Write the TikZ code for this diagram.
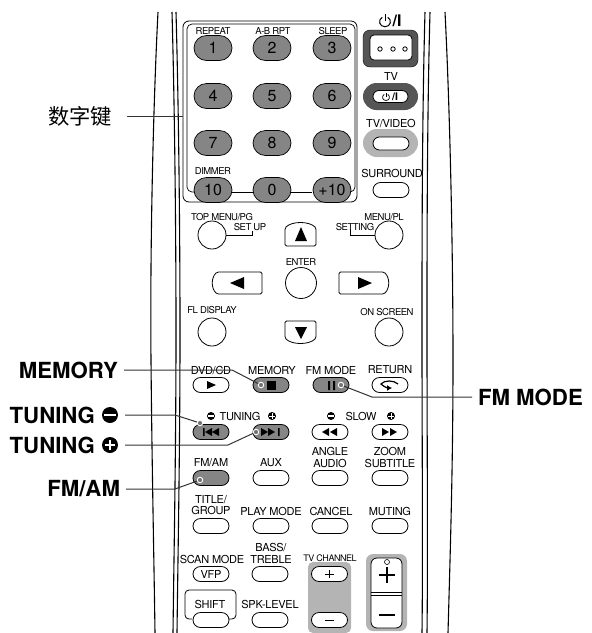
\documentclass[tikz,border=0pt]{standalone}
\usepackage{fontspec}
\setmainfont{TeX Gyre Heros}
\newfontfamily\cjk{Noto Sans CJK SC}
\newfontfamily\tightfont[LetterSpace=-5,BoldFont={TeX Gyre Heros Bold}]{TeX Gyre Heros}
\newfontfamily\lblfont[LetterSpace=-2.5]{TeX Gyre Heros}
\usetikzlibrary{arrows.meta,shapes.misc}
\definecolor{keygray}{HTML}{858585}
\definecolor{ringdark}{HTML}{555555}
\definecolor{ringlight}{HTML}{B4B4B4}
\tikzset{
  lbl/.style={font=\lblfont\fontsize{11}{11.8}\selectfont, align=center, inner sep=0pt},
  smalllbl/.style={font=\tightfont\fontsize{9.5}{10}\selectfont, align=center, inner sep=0pt},
  keylbl/.style={font=\bfseries\fontsize{22.2}{22}\selectfont, inner sep=0pt, outer xsep=6pt},
  btn/.style={draw=black, fill=white, rounded rectangle, line width=0.8pt, minimum width=36pt, minimum height=15pt, inner sep=0pt, font=\lblfont\fontsize{11}{11}\selectfont},
  darkbtn/.style={btn, fill=keygray},
  numkey/.style={draw=black, fill=keygray, rounded rectangle, line width=0.7pt, minimum width=38pt, minimum height=25pt, inner sep=0pt, font=\fontsize{16}{16}\selectfont},
  roundbtn/.style={draw=black, fill=white, circle, line width=0.8pt, minimum size=28pt, inner sep=0pt},
  leader/.style={line width=1pt, draw=black!80},
  body/.style={line width=1.1pt},
  ring/.style={circle, draw=white, fill=black!55, line width=0.9pt, minimum size=5.5pt, inner sep=0pt},
  minusicon/.style={circle, fill=black, inner sep=0pt, minimum size=#1, path picture={
    \fill[white] ([xshift=-0.36*#1, yshift=-0.08*#1]path picture bounding box.center) rectangle ([xshift=0.36*#1, yshift=0.08*#1]path picture bounding box.center);}},
  plusicon/.style={circle, fill=black, inner sep=0pt, minimum size=#1, path picture={
    \fill[white] ([xshift=-0.34*#1, yshift=-0.06*#1]path picture bounding box.center) rectangle ([xshift=0.34*#1, yshift=0.06*#1]path picture bounding box.center);
    \fill[white] ([xshift=-0.06*#1, yshift=-0.34*#1]path picture bounding box.center) rectangle ([xshift=0.06*#1, yshift=0.34*#1]path picture bounding box.center);}},
  powersign/.pic={
    \draw[line width=#1] (-2.2,-2.6) .. controls (-6,-0.5) and (-4.5,5) .. (0,5) .. controls (4.5,5) and (6,-0.5) .. (2.2,-2.6);
    \draw[line width=#1] (0,-5) -- (0,0.5);
  }
}
\begin{document}
\begin{tikzpicture}[x=1pt, y=-1pt]
\useasboundingbox (0,0) rectangle (592,633);
% remote outline
\draw[body] (158,12) .. controls (153,110) and (150,250) .. (151,360) .. controls (152,470) and (154,560) .. (155,633);
\draw[body] (172,12) .. controls (175,120) and (176,250) .. (176,330) .. controls (176,450) and (174,550) .. (173,633);
\draw[body] (176,12) .. controls (179,120) and (180,250) .. (180,330) .. controls (180,450) and (178,550) .. (177,633);
\draw[body] (430,12) .. controls (427,120) and (427,250) .. (427,330) .. controls (427,450) and (428,550) .. (427,633);
\draw[body] (425,12) .. controls (422,120) and (422,250) .. (422,330) .. controls (422,450) and (423,550) .. (422,633);
\draw[body] (445,12) .. controls (450,110) and (453,250) .. (453,360) .. controls (453,470) and (450,560) .. (448,633);
% number keys
\draw[line width=0.8pt, rounded corners=6pt] (183,21) rectangle (357,202);
\draw[line width=0.7pt, rounded corners=5pt] (197,192) -- (187,192) -- (187,24) -- (355,24) -- (355,192) -- (345,192);
\draw[line width=0.7pt] (232,192) -- (312,192);
\node[smalllbl] (repeatlbl) at (213,31) {REPEAT};
\node[smalllbl] (ablbl) at (273,31) {A-B RPT};
\node[smalllbl] (sleeplbl) at (333,31) {SLEEP};
\node[smalllbl] (dimmerlbl) at (213,171) {DIMMER};
\node[numkey] (key1) at (213,48) {1};
\node[numkey] (key2) at (272,48) {2};
\node[numkey] (key3) at (332,48) {3};
\node[numkey] (key4) at (213,96) {4};
\node[numkey] (key5) at (272,96) {5};
\node[numkey] (key6) at (332,96) {6};
\node[numkey] (key7) at (213,143) {7};
\node[numkey] (key8) at (272,143) {8};
\node[numkey] (key9) at (332,143) {9};
\node[numkey] (key10) at (213,190) {10};
\node[numkey] (key0) at (272,190) {0};
\node[numkey] (keyplus) at (332,190) {+10};
% power column
\pic[scale=1.25] at (385,20.5) {powersign=1pt};
\node[font=\bfseries\fontsize{16}{16}\selectfont, inner sep=0pt] (powerlbl) at (397,20.5) {/I};
\draw[fill=ringdark, rounded corners=7pt] (363,30) rectangle (418,67);
\draw[fill=white, rounded corners=4pt, line width=0.8pt] (370,35) rectangle (412,60);
\draw[line width=0.8pt] (380,49) circle (2.2) (393,49) circle (2.2) (405,49) circle (2.2);
\node[lbl] (tvlbl) at (391,76) {TV};
\node[rounded rectangle, fill=ringdark, minimum width=55pt, minimum height=27pt, inner sep=0pt] (tvring) at (390.5,96.5) {};
\node[btn, minimum width=35pt, minimum height=12pt] (tvbtn) at (390.5,96.5) {};
\pic[scale=0.8] at (386,96.5) {powersign=0.7pt};
\node[font=\bfseries\fontsize{10.5}{10.5}\selectfont, inner sep=0pt] (tvpowerlbl) at (395,96.5) {/I};
\node[lbl] (tvvideolbl) at (391,123) {TV/VIDEO};
\node[rounded rectangle, fill=ringlight, minimum width=55pt, minimum height=28pt, inner sep=0pt] (videoring) at (390.5,143) {};
\node[btn, minimum width=36pt, minimum height=13pt] (videobtn) at (391,143.5) {};
\node[lbl] (surroundlbl) at (392,173) {SURROUND};
\node[btn] (surroundbtn) at (391,190) {};
% menu section
\node[smalllbl] (topmenulbl) at (222,217) {TOP MENU/PG};
\node[smalllbl] (setuplbl) at (250,227) {SET UP};
\node[smalllbl] (menulbl) at (384,217) {MENU/PL};
\node[smalllbl] (settinglbl) at (355,227) {SETTING};
\node[roundbtn] (topmenubtn) at (212,235) {};
\node[roundbtn] (menubtn) at (389,235) {};
\draw[line width=0.7pt] (topmenubtn.east) -- (252,235) -- (252,231);
\draw[line width=0.7pt] (menubtn.west) -- (350,235) -- (350,229);
\draw[line width=0.8pt, rounded corners=1.5pt] (285,246) -- (285,228) .. controls (292,221) and (309,221) .. (316,228) -- (316,246) -- cycle;
\fill (301,227) -- (307,241) -- (295,241) -- cycle;
\node[smalllbl] (enterlbl) at (301,262) {ENTER};
\node[roundbtn, minimum size=31pt] (enterbtn) at (301,283) {};
\draw[line width=0.8pt, rounded corners=1.5pt] (262,272) -- (217,272) .. controls (211,278) and (211,288) .. (217,294) -- (262,294) -- cycle;
\fill (230,283) -- (244,277) -- (244,289) -- cycle;
\draw[line width=0.8pt, rounded corners=1.5pt] (339,272) -- (384,272) .. controls (390,278) and (390,288) .. (384,294) -- (339,294) -- cycle;
\fill (372,283) -- (358,277) -- (358,289) -- cycle;
\node[smalllbl] (fllbl) at (212,310) {FL DISPLAY};
\node[smalllbl] (onscreenlbl) at (387,312) {ON SCREEN};
\node[roundbtn] (flbtn) at (212,332) {};
\node[roundbtn] (onscreenbtn) at (389,332) {};
\draw[line width=0.8pt, rounded corners=1.5pt] (285,321) -- (316,321) -- (316,338) .. controls (309,345) and (292,345) .. (285,338) -- cycle;
\fill (301,339) -- (307,327) -- (295,327) -- cycle;
% transport rows
\node[lbl] (dvdlbl) at (211,370) {DVD/CD};
\node[lbl] (memorylbl) at (272,370) {MEMORY};
\node[lbl] (fmmodelbl) at (331,370) {FM MODE};
\node[lbl] (returnlbl) at (390,370) {RETURN};
\node[btn] (dvdbtn) at (211,385) {};
\node[darkbtn] (memorybtn) at (271,385) {};
\node[darkbtn] (fmmodebtn) at (331,385) {};
\node[btn] (returnbtn) at (390,385) {};
\fill (207,381) -- (216,385) -- (207,389) -- cycle;
\fill (267,381) rectangle (276,390);
\fill (328,381) rectangle (330,390) (333,381) rectangle (335,390);
\draw[line width=1.2pt, -{Latex[length=5pt,width=6pt]}] (398,384) .. controls (394,380) and (384,380) .. (381,384) .. controls (384,387) and (388,388) .. (392,388);
\node[lbl] (tuninglbl) at (240,416) {TUNING};
\node[lbl] (slowlbl) at (361,416) {SLOW};
\node[minusicon=8pt] (tuningminussign) at (211,416) {};
\node[plusicon=8pt] (tuningplussign) at (272,416) {};
\node[minusicon=8pt] (slowminussign) at (331,416) {};
\node[plusicon=8pt] (slowplussign) at (391,416) {};
\node[darkbtn] (prevbtn) at (211,432) {};
\node[darkbtn] (nextbtn) at (271,432) {};
\node[btn] (rewbtn) at (330,432) {};
\node[btn] (ffbtn) at (390,432) {};
\fill (203,428) rectangle (204.5,436) (205,432) -- (212,428) -- (212,436) -- cycle (212,432) -- (219,428) -- (219,436) -- cycle;
\fill (261,428) -- (268,432) -- (261,436) -- cycle (268,428) -- (275,432) -- (268,436) -- cycle (278,428) rectangle (279.5,436);
\fill (322,432) -- (329,428) -- (329,436) -- cycle (330,432) -- (337,428) -- (337,436) -- cycle;
\fill (382,428) -- (389,432) -- (382,436) -- cycle (390,428) -- (397,432) -- (390,436) -- cycle;
% lower keys
\node[lbl] (fmamlbl) at (211,463) {FM/AM};
\node[lbl] (auxlbl) at (271,463) {AUX};
\node[lbl] (anglelbl) at (330,457.5) {ANGLE\\AUDIO};
\node[lbl] (zoomlbl) at (390,457.5) {ZOOM\\SUBTITLE};
\node[darkbtn] (fmambtn) at (211,478) {};
\node[btn] (auxbtn) at (271,478) {};
\node[btn] (anglebtn) at (330,478) {};
\node[btn] (zoombtn) at (390,478) {};
\node[lbl] (titlelbl) at (211,505) {TITLE/\\GROUP};
\node[lbl] (playlbl) at (271,511) {PLAY MODE};
\node[lbl] (cancellbl) at (331,511) {CANCEL};
\node[lbl] (mutinglbl) at (390,511) {MUTING};
\node[btn] (titlebtn) at (211,526) {};
\node[btn] (playbtn) at (271,526) {};
\node[btn] (cancelbtn) at (330,526) {};
\node[btn] (mutingbtn) at (390,526) {};
\node[lbl] (scanlbl) at (212,559) {SCAN MODE};
\node[lbl] (basslbl) at (271,553) {BASS/\\TREBLE};
\node[smalllbl, font=\tightfont\fontsize{9}{10}\selectfont] (tvchlbl) at (330,558) {TV CHANNEL};
\node[btn] (vfpbtn) at (211,574) {VFP};
\node[btn] (bassbtn) at (270,574) {};
\fill[ringlight, rounded corners=5pt] (308,562) rectangle (351,633);
\node[btn] (chupbtn) at (329.5,574) {};
\node[btn] (chdownbtn) at (329.5,620) {};
\draw[line width=0.8pt] (325,574) -- (334,574) (329.5,570) -- (329.5,578);
\draw[line width=1.4pt] (325,620.5) -- (334,620.5);
\draw[line width=0.8pt, rounded corners=4pt] (192,619) -- (185,619) -- (185,590) -- (236,590) -- (236,619) -- (229,619);
\node[lbl] (shiftlbl) at (210,604) {SHIFT};
\node[lbl] (spklbl) at (270,604) {SPK-LEVEL};
\node[btn] (shiftbtn) at (211,620) {};
\node[btn] (spkbtn) at (270,620) {};
% volume
\fill[ringlight, rounded corners=7pt] (366,554) rectangle (407,631);
\draw[fill=white, line width=0.8pt, rounded corners=6pt] (371,558) rectangle (402,628);
\draw[line width=0.7pt] (371,592) -- (402,592) (371,595) -- (402,595);
\draw[line width=0.6pt] (387,562) circle (2.5);
\draw[line width=1.4pt] (379,575) -- (395,575) (387,567) -- (387,583);
\draw[line width=1.4pt] (379,615) -- (395,615);
% callouts
\node[font=\cjk\fontsize{21.3}{22}\selectfont, inner sep=0pt, anchor=east, outer xsep=15pt] (digitlbl) at (127,116) {数字键};
\coordinate (digitend) at (183,116);
\draw[leader] (digitlbl.east) -- (digitend);
\node[keylbl, anchor=east] (memorycall) at (124,370) {MEMORY};
\node[ring] (memorydot) at (261,385) {};
\coordinate (memorybend) at (232,370);
\draw[leader] (memorycall.east) -- (memorybend) -- (memorydot);
\node[minusicon=16pt] (tuningminuscall) at (110,415) {};
\node[keylbl, anchor=east] (tuningminustext) at (101,415) {TUNING};
\node[ring] (prevdot) at (200,423) {};
\coordinate (prevbend) at (175,415);
\draw[leader] (tuningminuscall.east) ++(7,0) -- (prevbend) -- (prevdot);
\node[plusicon=16pt] (tuningpluscall) at (110,445) {};
\node[keylbl, anchor=east] (tuningplustext) at (101,445) {TUNING};
\node[ring] (nextdot) at (256,432) {};
\coordinate (nextbend) at (228,445);
\draw[leader] (tuningpluscall.east) ++(7,0) -- (nextbend) -- (nextdot);
\node[keylbl, anchor=east] (fmamcall) at (126,489) {FM/AM};
\node[ring] (fmamdot) at (200,480) {};
\coordinate (fmambend) at (175,489);
\draw[leader] (fmamcall.east) -- (fmambend) -- (fmamdot);
\node[ring] (fmmodedot) at (341,385) {};
\node[keylbl, anchor=west] (fmmodecall) at (472,397) {FM MODE};
\coordinate (fmmodebend) at (372,397);
\draw[leader] (fmmodedot) -- (fmmodebend) -- (fmmodecall.west);
\end{tikzpicture}
\end{document}
